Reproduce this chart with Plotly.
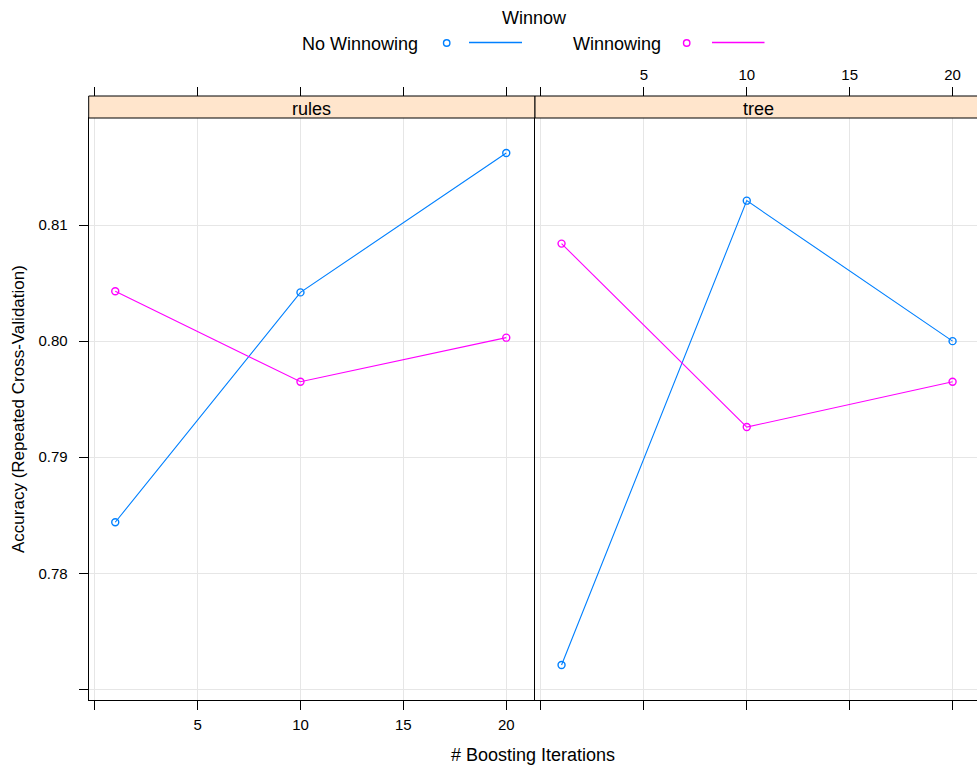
import plotly.graph_objects as go

# ---- data -------------------------------------------------------------
iterations = [1, 10, 20]
panels = ["rules", "tree"]
series_names = ["No Winnowing", "Winnowing"]
series_colors = ["#0080FF", "#FF00FF"]

rules_no_winnow = [0.7844, 0.8042, 0.8162]
rules_winnow = [0.8043, 0.7965, 0.8003]
tree_no_winnow = [0.7721, 0.8121, 0.8000]
tree_winnow = [0.8084, 0.7926, 0.7965]

x_tick_vals = [0, 5, 10, 15, 20]
x_tick_text = ["", "5", "10", "15", "20"]
y_tick_vals = [0.77, 0.78, 0.79, 0.80, 0.81]
y_tick_text = ["", "0.78", "0.79", "0.80", "0.81"]

# ---- layout geometry (pixels) ----------------------------------------
W, H = 977, 767
FONT = "Liberation Sans, Arial, sans-serif"
GRID = "#E6E6E6"
STRIP = "#FFE5CC"
TEXT_SIZE = 18


def px(x):
    return x / W


def py(y):
    return 1 - y / H


left, mid, right_edge = 88.7, 535.0, 981.0
panel_top, panel_bot, strip_top = 118.0, 700.0, 96.0
units_per_px = 1 / 20.58
x0 = -0.29
x_range_rules = [x0, x0 + (mid - left) * units_per_px]
x_range_tree = [x0, x0 + (W - mid) * units_per_px]
y_range = [0.76909, 0.81922]

fig = go.Figure()

data = {
    "rules": [rules_no_winnow, rules_winnow],
    "tree": [tree_no_winnow, tree_winnow],
}
for i, panel in enumerate(panels):
    xa = "x" if i == 0 else "x2"
    ya = "y" if i == 0 else "y2"
    for vals, name, col in zip(data[panel], series_names, series_colors):
        fig.add_trace(go.Scatter(
            x=iterations, y=vals, name=name, xaxis=xa, yaxis=ya,
            mode="lines+markers", showlegend=False,
            line=dict(color=col, width=1.1),
            marker=dict(symbol="circle-open", size=7, color=col,
                        line=dict(width=1.4, color=col)),
            cliponaxis=False,
        ))

# empty traces so the top tick axes are rendered
fig.add_trace(go.Scatter(x=[None], y=[None], xaxis="x3", yaxis="y",
                         showlegend=False, hoverinfo="skip"))
fig.add_trace(go.Scatter(x=[None], y=[None], xaxis="x4", yaxis="y2",
                         showlegend=False, hoverinfo="skip"))

tick_font = dict(family=FONT, size=15, color="black")
common_x = dict(zeroline=False,
                showline=True, linecolor="black", linewidth=1,
                tickvals=x_tick_vals, ticks="outside", ticklen=9,
                tickcolor="black", tickfont=tick_font)

fig.update_layout(
    width=W, height=H,
    margin=dict(l=0, r=0, t=0, b=0),
    paper_bgcolor="white", plot_bgcolor="rgba(0,0,0,0)",
    showlegend=False,
    font=dict(family=FONT, color="black"),
    xaxis=dict(domain=[px(left), px(mid)], range=x_range_rules, anchor="y",
               ticktext=x_tick_text, mirror=True, ticklabelstandoff=2,
               showgrid=True, gridcolor=GRID, **common_x),
    xaxis2=dict(domain=[px(mid), 1], range=x_range_tree, anchor="y2",
                showticklabels=False, mirror=True,
                showgrid=True, gridcolor=GRID, **common_x),
    xaxis3=dict(overlaying="x", anchor="free", position=py(strip_top),
                side="top", range=x_range_rules, showticklabels=False,
                showgrid=False, **common_x),
    xaxis4=dict(overlaying="x2", anchor="free", position=py(strip_top),
                side="top", range=x_range_tree, ticktext=x_tick_text,
                ticklabelstandoff=1, showgrid=False, **common_x),
    yaxis=dict(domain=[py(panel_bot), py(panel_top)], range=y_range,
               anchor="x", tickvals=y_tick_vals, ticktext=y_tick_text,
               ticks="outside", ticklen=9, tickcolor="black",
               tickfont=tick_font, ticklabelstandoff=8,
               showgrid=True, gridcolor=GRID, zeroline=False,
               showline=True, linecolor="black", linewidth=1),
    yaxis2=dict(domain=[py(panel_bot), py(panel_top)], range=y_range,
                anchor="x2", tickvals=y_tick_vals,
                showticklabels=False, ticks="",
                showgrid=True, gridcolor=GRID, zeroline=False,
                showline=True, linecolor="black", linewidth=1),
)

shapes = []
annotations = []

# strips with panel names
for (a, b), label in zip([(left, mid), (mid, right_edge + 4)], panels):
    shapes.append(dict(type="rect", xref="paper", yref="paper",
                       x0=px(a), x1=px(b), y0=py(panel_top), y1=py(strip_top),
                       fillcolor=STRIP, line=dict(color="black", width=1),
                       layer="above"))
    annotations.append(dict(xref="paper", yref="paper",
                            x=px((a + min(b, right_edge)) / 2),
                            y=py((panel_top + strip_top) / 2 + 2.5),
                            text=label, showarrow=False,
                            font=dict(family=FONT, size=TEXT_SIZE, color="black"),
                            xanchor="center", yanchor="middle"))

# key at the top
annotations.append(dict(xref="paper", yref="paper", x=px(534), y=py(18),
                        text="Winnow", showarrow=False,
                        font=dict(family=FONT, size=TEXT_SIZE, color="black"),
                        xanchor="center", yanchor="middle"))
key_items = [(420, 446.7, 469, 522), (663, 686.7, 712, 764.5)]
for (txt_r, cx, l0, l1), name, col in zip(key_items, series_names, series_colors):
    annotations.append(dict(xref="paper", yref="paper", x=px(txt_r), y=py(43.5),
                            text=name, showarrow=False,
                            font=dict(family=FONT, size=TEXT_SIZE, color="black"),
                            xanchor="right", yanchor="middle"))
    r = 3.2
    shapes.append(dict(type="circle", xref="paper", yref="paper",
                       x0=px(cx - r), x1=px(cx + r), y0=py(43 + r), y1=py(43 - r),
                       line=dict(color=col, width=1.4)))
    shapes.append(dict(type="line", xref="paper", yref="paper",
                       x0=px(l0), x1=px(l1), y0=py(42.5), y1=py(42.5),
                       line=dict(color=col, width=1.4)))

# axis titles
annotations.append(dict(xref="paper", yref="paper", x=px(533), y=py(755),
                        text="# Boosting Iterations", showarrow=False,
                        font=dict(family=FONT, size=TEXT_SIZE, color="black"),
                        xanchor="center", yanchor="middle"))
annotations.append(dict(xref="paper", yref="paper", x=px(18), y=py(409),
                        text="Accuracy (Repeated Cross-Validation)",
                        showarrow=False, textangle=-90,
                        font=dict(family=FONT, size=17, color="black"),
                        xanchor="center", yanchor="middle"))

fig.update_layout(shapes=shapes, annotations=annotations)

fig.write_html("out.html")
